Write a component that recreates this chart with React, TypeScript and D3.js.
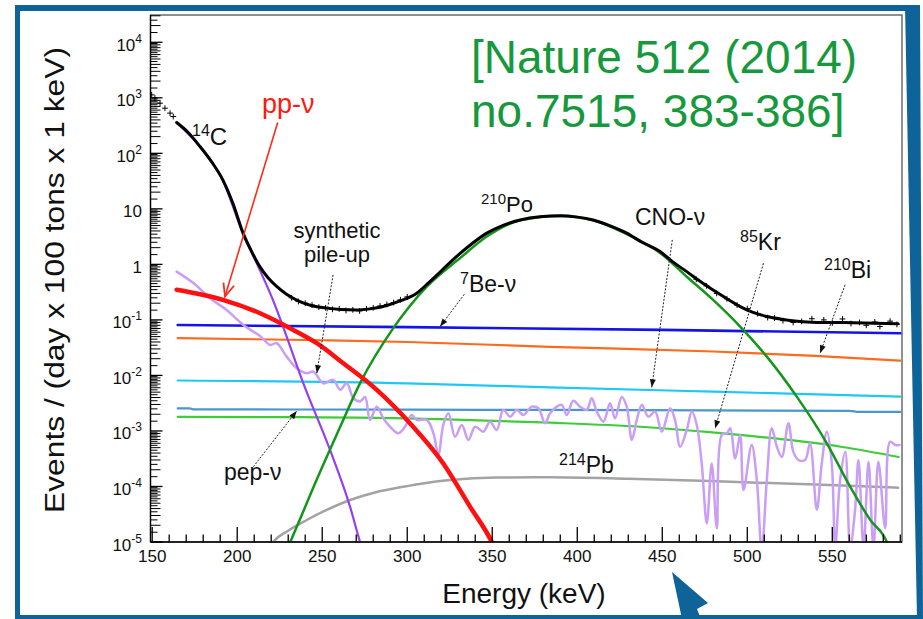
import React from "react";
import * as d3 from "d3";

// ---------- canvas & frame ----------
const WIDTH = 923;
const HEIGHT = 619;
const PLOT = { left: 150.5, top: 15, right: 902, bottom: 542 };
const FONT = "'Liberation Sans', Arial, Helvetica, sans-serif";
const FRAME_BLUE = "#0e6499";

// ---------- axes ----------
const X_DOMAIN: [number, number] = [149, 591];
const Y_DOMAIN: [number, number] = [1e-5, 3.1e4];
const xMajorTicks = [150, 200, 250, 300, 350, 400, 450, 500, 550];
const xMinorTicks = [160, 170, 180, 190, 210, 220, 230, 240, 260, 270, 280, 290, 310, 320, 330, 340, 360, 370, 380, 390, 410, 420, 430, 440, 460, 470, 480, 490, 510, 520, 530, 540, 560, 570, 580, 590];
const yDecadeExponents = [-5, -4, -3, -2, -1, 0, 1, 2, 3, 4];
const yMinorMantissas = [1.5, 2, 2.5, 3, 3.5, 4, 4.5, 5, 5.5, 6, 6.5, 7, 7.5, 8, 8.5, 9, 9.5];

// ---------- spectrum components (energy keV, events / day / 100 t / keV) ----------
const totalFitE = [164.4, 171, 178.1, 185, 191.6, 197.5, 203.4, 208.5, 213.4, 218, 223.2, 229, 236.9, 244, 252.6, 261, 270.3, 278, 285.8, 295, 305.6, 313, 321.1, 327, 336, 346.8, 356, 366.4, 378, 390, 400, 409.3, 419, 429.1, 438, 448.7, 456, 464.4, 472, 479.9, 488, 495.8, 503, 511.5, 520, 532.8, 545, 562.2, 575, 588.7];
const totalFitV = [359, 240, 133, 70, 33, 12.5, 3.7, 1.7, 0.9, 0.58, 0.4, 0.29, 0.214, 0.18, 0.163, 0.154, 0.151, 0.158, 0.174, 0.215, 0.303, 0.48, 0.82, 1.22, 2.1, 3.65, 5.0, 6.3, 7.2, 7.5, 7.1, 6.3, 5.0, 3.65, 2.5, 1.7, 1.12, 0.74, 0.5, 0.347, 0.24, 0.174, 0.138, 0.115, 0.103, 0.093, 0.09, 0.089, 0.087, 0.085];

const dataE = [149.7, 151.6, 154.6, 157.5, 160.5, 162.4, 232, 236, 240, 244, 248, 252, 256, 260, 264, 268, 272, 276, 280, 284, 288, 292, 296, 300, 470, 476, 482, 488, 494, 500, 506, 512, 516, 521, 527, 532, 538, 545, 550, 556, 561, 566, 570, 575, 578, 584, 588];
const dataV = [1130, 990, 800, 650, 530, 460, 0.25, 0.215, 0.2, 0.185, 0.17, 0.165, 0.155, 0.158, 0.148, 0.152, 0.145, 0.158, 0.165, 0.178, 0.19, 0.205, 0.23, 0.26, 0.54, 0.41, 0.3, 0.24, 0.185, 0.16, 0.13, 0.11, 0.108, 0.097, 0.09, 0.094, 0.105, 0.1, 0.088, 0.104, 0.086, 0.09, 0.08, 0.092, 0.076, 0.095, 0.083];

const c14E = [164.4, 178.1, 191.6, 203.4, 213.4, 221, 227, 238.9, 254.6, 266.4, 272.2, 274.5];
const c14V = [355, 131, 32, 3.6, 0.78, 0.229, 0.075, 7.2e-3, 4.55e-4, 4.3e-5, 1.01e-5, 6e-6];

const ppE = [164.4, 191.6, 213.4, 233, 246.8, 262.4, 282.1, 301.6, 321.2, 337, 349.7, 352];
const ppV = [0.35, 0.23, 0.132, 0.066, 0.038, 0.0166, 5.5e-3, 1.38e-3, 2.6e-4, 4.3e-5, 1.0e-5, 7e-6];

const po210E = [229, 231.2, 248.7, 260.5, 272.2, 291.8, 311.5, 331.1, 346.8, 366.4, 390, 409.3, 429.1, 448.7, 464.4, 479.9, 495.8, 511.5, 529.1, 546.8, 560.5, 572.3, 582.1, 584];
const po210V = [7e-6, 1.0e-5, 1.82e-4, 1.18e-3, 7.2e-3, 0.071, 0.398, 1.3, 3.17, 6.2, 7.4, 6.2, 3.5, 1.61, 0.6, 0.229, 0.076, 0.0218, 4.15e-3, 6.0e-4, 9.9e-5, 2.5e-5, 1.0e-5, 7e-6];

const be7E = [165, 300, 450, 590];
const be7V = [0.081, 0.074, 0.066, 0.0575];

const bi210E = [165, 250, 300, 384, 480, 540, 590];
const bi210V = [0.047, 0.043, 0.04, 0.0327, 0.027, 0.0225, 0.0185];

const cnoE = [165, 300, 384, 480, 590];
const cnoV = [8.1e-3, 7.2e-3, 6.1e-3, 5.1e-3, 4.15e-3];

const pepE = [165, 172, 174, 300, 384, 480, 560, 566, 590];
const pepV = [2.56e-3, 2.56e-3, 2.45e-3, 2.42e-3, 2.39e-3, 2.35e-3, 2.3e-3, 2.2e-3, 2.2e-3];

const kr85E = [165, 237, 319, 384, 437, 478, 515, 555, 589];
const kr85V = [1.8e-3, 1.77e-3, 1.63e-3, 1.41e-3, 1.19e-3, 9.5e-4, 7.4e-4, 5.2e-4, 3.4e-4];

const pb214E = [219, 221.2, 230, 240.9, 252, 266.4, 281, 297.7, 311, 325.4, 352.6, 384, 430, 482.1, 540, 588.7];
const pb214V = [8e-6, 1e-5, 1.6e-5, 2.49e-5, 3.7e-5, 5.7e-5, 7.8e-5, 9.9e-5, 1.16e-4, 1.31e-4, 1.45e-4, 1.47e-4, 1.38e-4, 1.24e-4, 1.08e-4, 9.5e-5];

const pileupE = [164.4, 174.2, 184, 193.8, 203.6, 213.4, 219.3, 223.2, 229.1, 235, 240.9, 244.8, 250.6, 256.5, 260.5, 264.4, 268.3, 272.2, 275.2, 278.1, 282.1, 285.9, 289.9, 294.8, 298.7, 302.6, 305.6, 311.5, 315.4, 318.3, 321.2, 324.2, 328.1, 332.1, 336, 339.9, 344.8, 348.7, 352.6, 356.5, 360.5, 364.4, 368.3, 373.2, 377.1, 381.1, 384, 388, 390.9, 393.8, 397.7, 401.6, 405.6, 408.5, 411.5, 415.4, 419.3, 422.2, 426.2, 429.1, 432.1, 435, 438, 441.8, 445.8, 449.7, 454.6, 457.5, 460.5, 464.4, 467.4, 470.3, 473.2, 476.2, 479.1, 482.1, 485, 488, 490, 492.9, 495.8, 497.8, 502.6, 505.6, 508.5, 511.5, 514.4, 517.4, 520.3, 524.2, 527.1, 530.1, 534, 536.9, 540.9, 543.8, 546.8, 549.7, 551.7, 554.6, 557.6, 560.5, 563.4, 565.4, 568.4, 571.3, 574.2, 577.1, 581.1, 584, 587, 589.5];
const pileupV = [0.74, 0.46, 0.246, 0.151, 0.081, 0.0515, 0.0355, 0.038, 0.0218, 0.0135, 0.011, 0.0117, 7.2e-3, 8.3e-3, 5.5e-3, 7.2e-3, 3.9e-3, 3.4e-3, 4.1e-3, 1.58e-3, 2.74e-3, 1.69e-3, 1.19e-3, 9.1e-4, 1.19e-3, 1.94e-3, 1.58e-3, 1.58e-3, 9.1e-4, 3.7e-4, 1.28e-3, 2.08e-3, 7.9e-4, 1.28e-3, 6.9e-4, 1.19e-3, 9.7e-4, 1.47e-3, 1.04e-3, 2.39e-3, 1.81e-3, 2.39e-3, 1.94e-3, 2.74e-3, 2.56e-3, 1.38e-3, 2.08e-3, 2.74e-3, 2.94e-3, 1.94e-3, 3.5e-3, 2.74e-3, 2.39e-3, 3.9e-3, 2.23e-3, 1.47e-3, 3.15e-3, 1.69e-3, 4.1e-3, 2.74e-3, 6.9e-4, 1.58e-3, 2.94e-3, 1.81e-3, 2.23e-3, 9.7e-4, 2.56e-3, 1.58e-3, 5.2e-4, 1.04e-3, 2.23e-3, 1.28e-3, 2.6e-4, 2.17e-5, 2.6e-4, 1.77e-5, 8.5e-4, 9.1e-4, 1.12e-3, 3.2e-4, 8.5e-4, 8.6e-5, 5.6e-4, 1.31e-4, 7e-6, 1.31e-4, 1.12e-3, 5.2e-4, 3.4e-4, 1.38e-3, 4.2e-4, 3.0e-4, 3.0e-4, 6.0e-4, 3.8e-5, 2.6e-4, 9.7e-4, 2.6e-4, 8e-6, 1.31e-4, 4.2e-4, 8e-6, 3.8e-5, 3.0e-4, 8e-6, 2.8e-4, 8e-6, 2.8e-4, 1.77e-5, 6.4e-4, 5.6e-4, 5.6e-4];

// drawing order: back to front
const components = [
  { name: "214Pb", e: pb214E, v: pb214V, color: "#a3a3a3", width: 2.5, wiggly: false },
  { name: "pep", e: pepE, v: pepV, color: "#4b97cb", width: 2.2, wiggly: false },
  { name: "85Kr", e: kr85E, v: kr85V, color: "#3fcc39", width: 2.2, wiggly: false },
  { name: "CNO", e: cnoE, v: cnoV, color: "#1ec8f6", width: 2.2, wiggly: false },
  { name: "210Bi", e: bi210E, v: bi210V, color: "#ff6a1c", width: 2.2, wiggly: false },
  { name: "7Be", e: be7E, v: be7V, color: "#1414e6", width: 2.6, wiggly: false },
  { name: "pileup", e: pileupE, v: pileupV, color: "#c99ef7", width: 2.5, wiggly: true },
  { name: "14C", e: c14E, v: c14V, color: "#9440f2", width: 2.2, wiggly: false },
  { name: "210Po", e: po210E, v: po210V, color: "#13961a", width: 2.5, wiggly: false },
  { name: "pp", e: ppE, v: ppV, color: "#ff1010", width: 4.5, wiggly: false },
  { name: "total", e: totalFitE, v: totalFitV, color: "#000000", width: 3, wiggly: false },
];

// callout arrows in data coordinates [E, value]
const dottedArrowFrom: [number, number][] = [[256.4, 0.647], [333.6, 0.29], [455.9, 2.76], [509.5, 1.05], [557.5, 0.428], [209.5, 2.27e-4]];
const dottedArrowTo: [number, number][] = [[246.8, 0.011], [319.3, 0.0757], [443.8, 6.1e-3], [481.1, 1.12e-3], [542.8, 0.0251], [235, 2.29e-3]];
const ppArrowFrom: [number, number] = [223.8, 359];
const ppArrowTo: [number, number] = [192.8, 0.263];

const zip = (e: number[], v: number[]) => e.map((ei, i) => [ei, v[i]] as [number, number]);

function Label({ x, y, sup, main, size = 23, fill = "#111" }: { x: number; y: number; sup?: string; main: string; size?: number; fill?: string }) {
  const supSize = Math.round(size * 0.68);
  const rise = Math.round(size * 0.36);
  return (
    <text x={x} y={y} fontSize={size} fill={fill} fontFamily={FONT}>
      {sup ? (
        <>
          <tspan fontSize={supSize} dy={-rise}>{sup}</tspan>
          <tspan dy={rise}>{main}</tspan>
        </>
      ) : (
        main
      )}
    </text>
  );
}

export default function App() {
  const x = d3.scaleLinear().domain(X_DOMAIN).range([PLOT.left, PLOT.right]);
  const y = d3.scaleLog().domain(Y_DOMAIN).range([PLOT.bottom, PLOT.top]);

  const smoothLine = d3
    .line<[number, number]>()
    .x((d) => x(d[0]))
    .y((d) => y(d[1]))
    .curve(d3.curveMonotoneX);
  const wigglyLine = d3
    .line<[number, number]>()
    .x((d) => x(d[0]))
    .y((d) => y(d[1]))
    .curve(d3.curveCatmullRom.alpha(0.5));

  const head = (from: [number, number], to: [number, number], len: number, half: number) => {
    const x1 = x(from[0]), y1 = y(from[1]), x2 = x(to[0]), y2 = y(to[1]);
    const dx = x2 - x1, dy = y2 - y1;
    const L = Math.hypot(dx, dy);
    const ux = dx / L, uy = dy / L;
    const bx = x2 - ux * len, by = y2 - uy * len;
    return { x1, y1, x2, y2, lx: bx - uy * half, ly: by + ux * half, rx: bx + uy * half, ry: by - ux * half };
  };

  const yMinor: { v: number; len: number }[] = [];
  yDecadeExponents.forEach((k) =>
    yMinorMantissas.forEach((m) => {
      const val = m * Math.pow(10, k);
      if (val < Y_DOMAIN[1]) yMinor.push({ v: val, len: Number.isInteger(m) ? 10 : 7 });
    })
  );

  const pp = head(ppArrowFrom, ppArrowTo, 13, 5.5);

  return (
    <svg width={WIDTH} height={HEIGHT} style={{ position: "absolute", left: 0, top: 0, background: "#fff" }} fontFamily={FONT}>
      <defs>
        <clipPath id="plot-area">
          <rect x={PLOT.left} y={PLOT.top} width={PLOT.right - PLOT.left} height={PLOT.bottom - PLOT.top} />
        </clipPath>
      </defs>

      {/* slide frame */}
      <rect x={15} y={5} width={905} height={6} fill={FRAME_BLUE} />
      <rect x={15} y={5} width={5} height={614} fill={FRAME_BLUE} />
      <rect x={15} y={615} width={908} height={4} fill={FRAME_BLUE} />
      <polygon points="905,5 920,5 923,619 917,619" fill={FRAME_BLUE} />

      {/* plot frame */}
      <rect x={PLOT.left} y={PLOT.top} width={PLOT.right - PLOT.left} height={PLOT.bottom - PLOT.top} fill="none" stroke="#555" strokeWidth={1.3} />

      {/* spectrum components */}
      <g clipPath="url(#plot-area)" fill="none" strokeLinejoin="round" strokeLinecap="round">
        {components.map((c) => (
          <path key={c.name} d={(c.wiggly ? wigglyLine : smoothLine)(zip(c.e, c.v)) || ""} stroke={c.color} strokeWidth={c.width} />
        ))}
        {/* measured points */}
        {dataE.map((e, i) => {
          const px = x(e), py = y(dataV[i]);
          return (
            <g key={i} stroke="#000" strokeWidth={1}>
              <line x1={px - 2.5} x2={px + 2.5} y1={py} y2={py} />
              <line x1={px} x2={px} y1={py - 2.5} y2={py + 2.5} />
            </g>
          );
        })}
      </g>

      {/* axes */}
      <g stroke="#000" strokeWidth={1.3}>
        <line x1={PLOT.left} x2={PLOT.left} y1={PLOT.top} y2={PLOT.bottom} />
        <line x1={PLOT.left} x2={PLOT.right} y1={PLOT.bottom} y2={PLOT.bottom} />
        {xMajorTicks.map((t) => (
          <line key={t} x1={x(t)} x2={x(t)} y1={PLOT.bottom} y2={PLOT.bottom - 15} />
        ))}
        {xMinorTicks.map((t) => (
          <line key={t} x1={x(t)} x2={x(t)} y1={PLOT.bottom} y2={PLOT.bottom - 7.5} />
        ))}
        {yDecadeExponents.map((k) => (
          <line key={k} x1={PLOT.left} x2={PLOT.left + 12} y1={y(Math.pow(10, k))} y2={y(Math.pow(10, k))} />
        ))}
        {yMinor.map((t, i) => (
          <line key={i} x1={PLOT.left} x2={PLOT.left + t.len} y1={y(t.v)} y2={y(t.v)} strokeWidth={1} />
        ))}
      </g>

      {/* tick labels */}
      <g fontSize={17} fill="#111">
        {xMajorTicks.map((t) => (
          <text key={t} x={x(t)} y={561.5} textAnchor="middle">{t}</text>
        ))}
        {yDecadeExponents.map((k) => {
          const ty = y(Math.pow(10, k)) + 8.5;
          if (k === 0) return <text key={k} x={142} y={ty} textAnchor="end">1</text>;
          if (k === 1) return <text key={k} x={142} y={ty} textAnchor="end">10</text>;
          return (
            <text key={k} x={142} y={ty} textAnchor="end">
              <tspan>10</tspan>
              <tspan fontSize={12} dy={-8}>{k}</tspan>
            </text>
          );
        })}
      </g>

      {/* axis titles */}
      <text x={524} y={603} fontSize={28} textAnchor="middle" fill="#111">Energy (keV)</text>
      <text transform="translate(64,280) rotate(-90)" fontSize={27} textAnchor="middle" fill="#111" textLength={466} lengthAdjust="spacingAndGlyphs">
        Events / (day x 100 tons x 1 keV)
      </text>

      {/* callouts */}
      <g>
        {dottedArrowFrom.map((f, i) => {
          const a = head(f, dottedArrowTo[i], 8, 3);
          return (
            <g key={i}>
              <line x1={a.x1} y1={a.y1} x2={a.x2} y2={a.y2} stroke="#222" strokeWidth={1} strokeDasharray="2 1.5" />
              <polygon points={`${a.x2},${a.y2} ${a.lx},${a.ly} ${a.rx},${a.ry}`} fill="#111" />
            </g>
          );
        })}
        <line x1={pp.x1} y1={pp.y1} x2={pp.x2} y2={pp.y2} stroke="#ff2a1a" strokeWidth={1.6} />
        <polyline points={`${pp.lx},${pp.ly} ${pp.x2},${pp.y2} ${pp.rx},${pp.ry}`} fill="none" stroke="#ff2a1a" strokeWidth={1.8} />
      </g>

      {/* component labels */}
      <Label x={192} y={145} sup="14" main="C" size={24} />
      <Label x={262} y={113} main="pp-ν" size={27} fill="#ff1a10" />
      <text x={337} y={238} fontSize={22} textAnchor="middle" fill="#111">synthetic</text>
      <text x={337} y={262} fontSize={22} textAnchor="middle" fill="#111">pile-up</text>
      <Label x={481} y={211.5} sup="210" main="Po" size={22} />
      <Label x={460} y={291.5} sup="7" main="Be-ν" size={23} />
      <text x={635} y={225} fontSize={23} fill="#111">CNO-ν</text>
      <Label x={740} y={250} sup="85" main="Kr" size={23} />
      <Label x={824} y={278} sup="210" main="Bi" size={23} />
      <text x={224} y={480} fontSize={23} fill="#111">pep-ν</text>
      <Label x={559} y={473} sup="214" main="Pb" size={23} />

      {/* reference note */}
      <g fontSize={46} fill="#16993c">
        <text x={471} y={73}>[Nature 512 (2014)</text>
        <text x={471} y={127}>no.7515, 383-386]</text>
      </g>

      {/* pointer */}
      <polygon points="672,572 708,603 697,609 701,619 682,619" fill={FRAME_BLUE} />
    </svg>
  );
}
